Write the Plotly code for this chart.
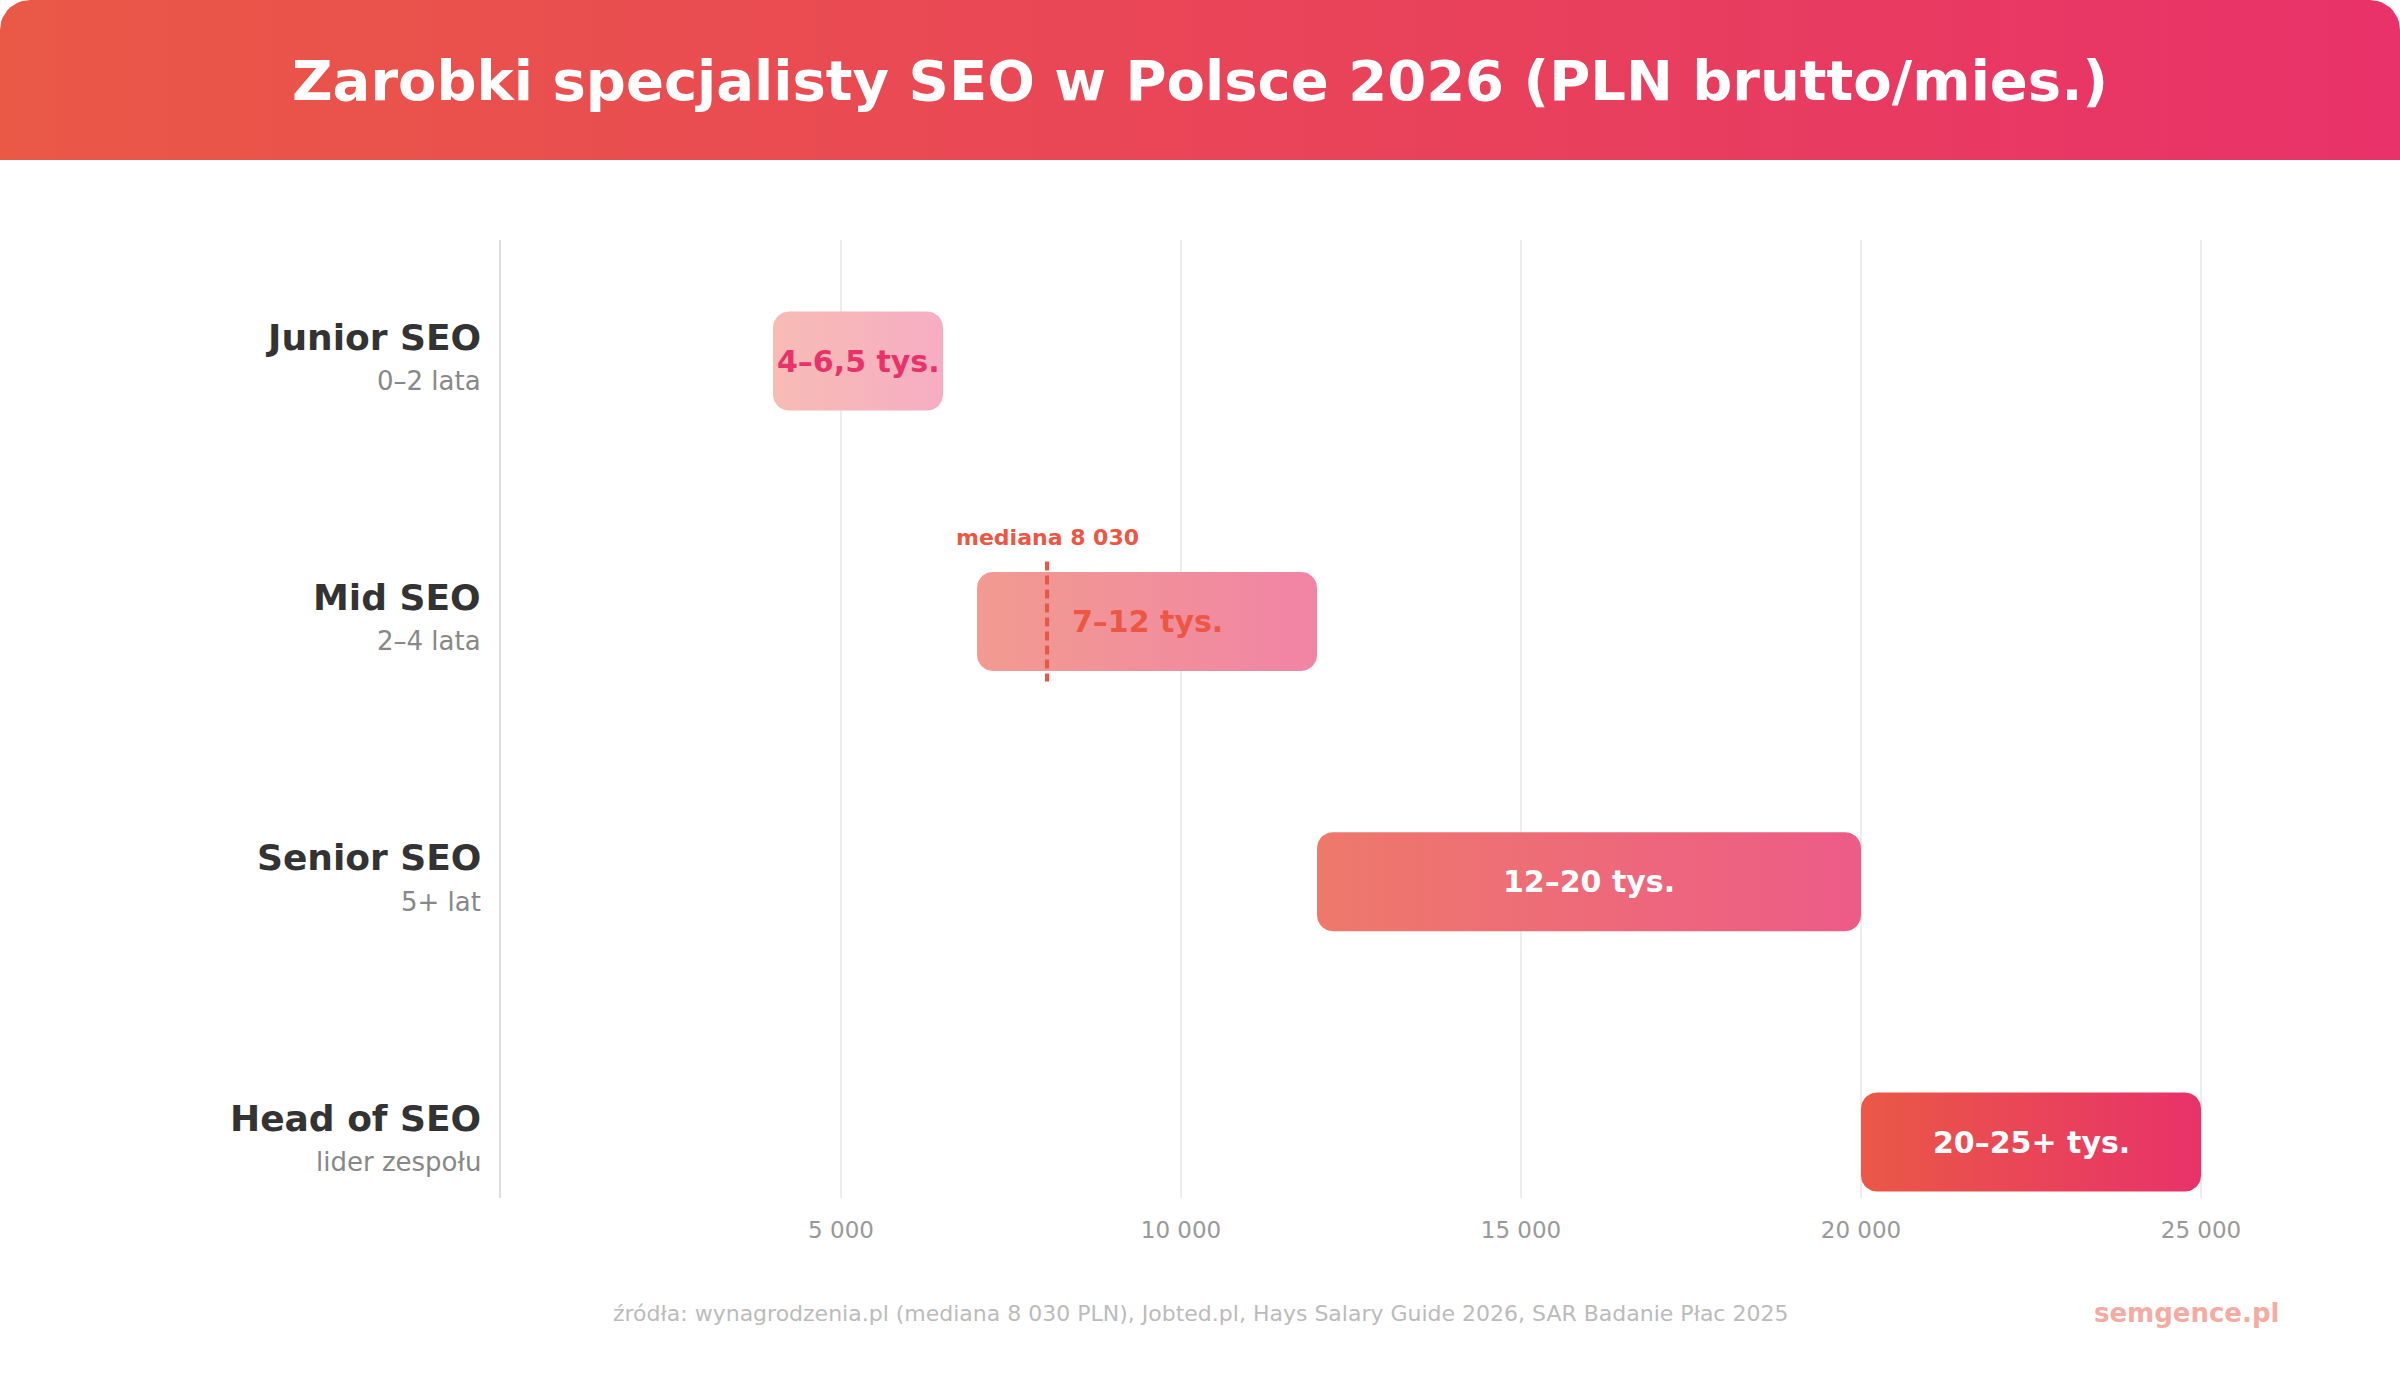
import numpy as np
import plotly.graph_objects as go

# ---------------- data ----------------
levels = ["Junior SEO", "Mid SEO", "Senior SEO", "Head of SEO"]
experience = ["0–2 lata", "2–4 lata", "5+ lat", "lider zespołu"]
salary_min = [4000, 7000, 12000, 20000]
salary_max = [6500, 12000, 20000, 25000]
range_labels = ["4–6,5 tys.", "7–12 tys.", "12–20 tys.", "20–25+ tys."]
median_mid = 8030
median_label = "mediana 8 030"
tick_vals = [5000, 10000, 15000, 20000, 25000]
tick_text = ["5 000", "10 000", "15 000", "20 000", "25 000"]
title_text = "Zarobki specjalisty SEO w Polsce 2026 (PLN brutto/mies.)"
source_text = ("źródła: wynagrodzenia.pl (mediana 8 030 PLN), Jobted.pl, "
               "Hays Salary Guide 2026, SAR Badanie Płac 2025")
brand_text = "semgence.pl"

# ---------------- style ----------------
W, H = 2400, 1400
FONT = "DejaVu Sans"
C1 = (234, 88, 70)
C2 = (232, 50, 105)
bar_alpha = [0.4, 0.6, 0.8, 1.0]
label_colors = ["#E8336A", "#EB5744", "#FFFFFF", "#FFFFFF"]

PX_L, PX_R = 501, 2269          # plot area, px
PX_T, PX_B = 240, 1198
XMAX = 26000
Y_RANGE = [3.215, -0.465]
px_per_x = (PX_R - PX_L) / XMAX
px_per_y = (PX_B - PX_T) / abs(Y_RANGE[0] - Y_RANGE[1])
BAR_HALF = 49.5 / px_per_y
RADIUS_PX = 16
rx = RADIUS_PX / px_per_x
ry = RADIUS_PX / px_per_y


def blend(c, a):
    return "rgb(%d,%d,%d)" % tuple(round(a * v + (1 - a) * 255) for v in c)


def rounded_rect(x0, x1, y0, y1, rx, ry, n=12):
    xs, ys = [], []
    corners = [((x1 - rx, y1 - ry), 0), ((x0 + rx, y1 - ry), 90),
               ((x0 + rx, y0 + ry), 180), ((x1 - rx, y0 + ry), 270)]
    for (cx, cy), a0 in corners:
        for t in np.linspace(np.radians(a0), np.radians(a0 + 90), n):
            xs.append(cx + rx * np.cos(t))
            ys.append(cy + ry * np.sin(t))
    xs.append(xs[0]); ys.append(ys[0])
    return xs, ys


fig = go.Figure()

# header band (own hidden pixel axes)
HR = 30
hx, hy = [], []
for (cx, cy), a0 in [((W - HR, 160 - HR), 0), ((HR, 160 - HR), 90)]:
    for t in np.linspace(np.radians(a0), np.radians(a0 + 90), 12):
        hx.append(cx + HR * np.cos(t)); hy.append(cy + HR * np.sin(t))
hx += [0, W, hx[0]]; hy += [0, 0, hy[0]]
fig.add_trace(go.Scatter(
    x=hx, y=hy, xaxis="x2", yaxis="y2", mode="lines", fill="toself",
    line=dict(width=0),
    fillgradient=dict(type="horizontal",
                      colorscale=[[0, blend(C1, 1)], [1, blend(C2, 1)]]),
    hoverinfo="skip", showlegend=False))

# bars
for i in range(len(levels)):
    xs, ys = rounded_rect(salary_min[i], salary_max[i],
                          i - BAR_HALF, i + BAR_HALF, rx, ry)
    fig.add_trace(go.Scatter(
        x=xs, y=ys, mode="lines", fill="toself", line=dict(width=0),
        fillgradient=dict(type="horizontal",
                          colorscale=[[0, blend(C1, bar_alpha[i])],
                                      [1, blend(C2, bar_alpha[i])]]),
        hoverinfo="skip", showlegend=False))

# median line
med_half = 60 / px_per_y
fig.add_trace(go.Scatter(
    x=[median_mid, median_mid], y=[1 - med_half, 1 + med_half], mode="lines",
    line=dict(color="#EB5744", width=4, dash="9px,5px"),
    hoverinfo="skip", showlegend=False))

annotations = []
# bar labels
for i in range(len(levels)):
    annotations.append(dict(
        x=(salary_min[i] + salary_max[i]) / 2, y=i, xref="x", yref="y",
        text="<b>%s</b>" % range_labels[i], showarrow=False,
        font=dict(family=FONT, size=30, color=label_colors[i]),
        xanchor="center", yanchor="middle"))
    annotations.append(dict(
        x=(PX_L - 18) / W, y=i, xref="paper", yref="y",
        text="<b>%s</b>" % levels[i], showarrow=False, yshift=24,
        font=dict(family=FONT, size=36, color="#333333"),
        xanchor="right", yanchor="middle"))
    annotations.append(dict(
        x=(PX_L - 18) / W, y=i, xref="paper", yref="y",
        text=experience[i], showarrow=False, yshift=-20,
        font=dict(family=FONT, size=26, color="#888888"),
        xanchor="right", yanchor="middle"))

annotations.append(dict(
    x=median_mid, y=1, xref="x", yref="y", text="<b>%s</b>" % median_label,
    showarrow=False, yshift=84,
    font=dict(family=FONT, size=22, color="#EB5744"),
    xanchor="center", yanchor="middle"))

annotations.append(dict(
    x=0.5, y=1 - 81 / H, xref="paper", yref="paper",
    text="<b>%s</b>" % title_text, showarrow=False,
    font=dict(family=FONT, size=56, color="#FFFFFF"),
    xanchor="center", yanchor="middle"))
annotations.append(dict(
    x=0.5, y=1 - 1313 / H, xref="paper", yref="paper", text=source_text,
    showarrow=False, font=dict(family=FONT, size=22, color="#BBBBBB"),
    xanchor="center", yanchor="middle"))
annotations.append(dict(
    x=2281 / W, y=1 - 1313 / H, xref="paper", yref="paper",
    text="<b>%s</b>" % brand_text, showarrow=False,
    font=dict(family=FONT, size=26, color=blend(C1, 0.5)),
    xanchor="right", yanchor="middle"))

fig.update_layout(
    width=W, height=H, margin=dict(l=0, r=0, t=0, b=0),
    paper_bgcolor="white", plot_bgcolor="white",
    font=dict(family=FONT),
    annotations=annotations,
    xaxis=dict(domain=[PX_L / W, PX_R / W], range=[0, XMAX],
               tickvals=tick_vals, ticktext=tick_text,
               showgrid=True, gridcolor="#EDEDED", gridwidth=2,
               zeroline=False, showline=False, ticks="",
               ticklabelstandoff=16,
               tickfont=dict(family=FONT, size=23, color="#999999"),
               fixedrange=True, anchor="y"),
    yaxis=dict(domain=[1 - PX_B / H, 1 - PX_T / H], range=Y_RANGE,
               showticklabels=False, showgrid=False, zeroline=False,
               showline=True, linecolor="#DDDDDD", linewidth=2, ticks="",
               fixedrange=True, anchor="x"),
    xaxis2=dict(domain=[0, 1], range=[0, W], visible=False, anchor="y2",
                fixedrange=True),
    yaxis2=dict(domain=[1 - 160 / H, 1], range=[0, 160], visible=False,
                anchor="x2", fixedrange=True),
)

fig.write_html("out.html")
